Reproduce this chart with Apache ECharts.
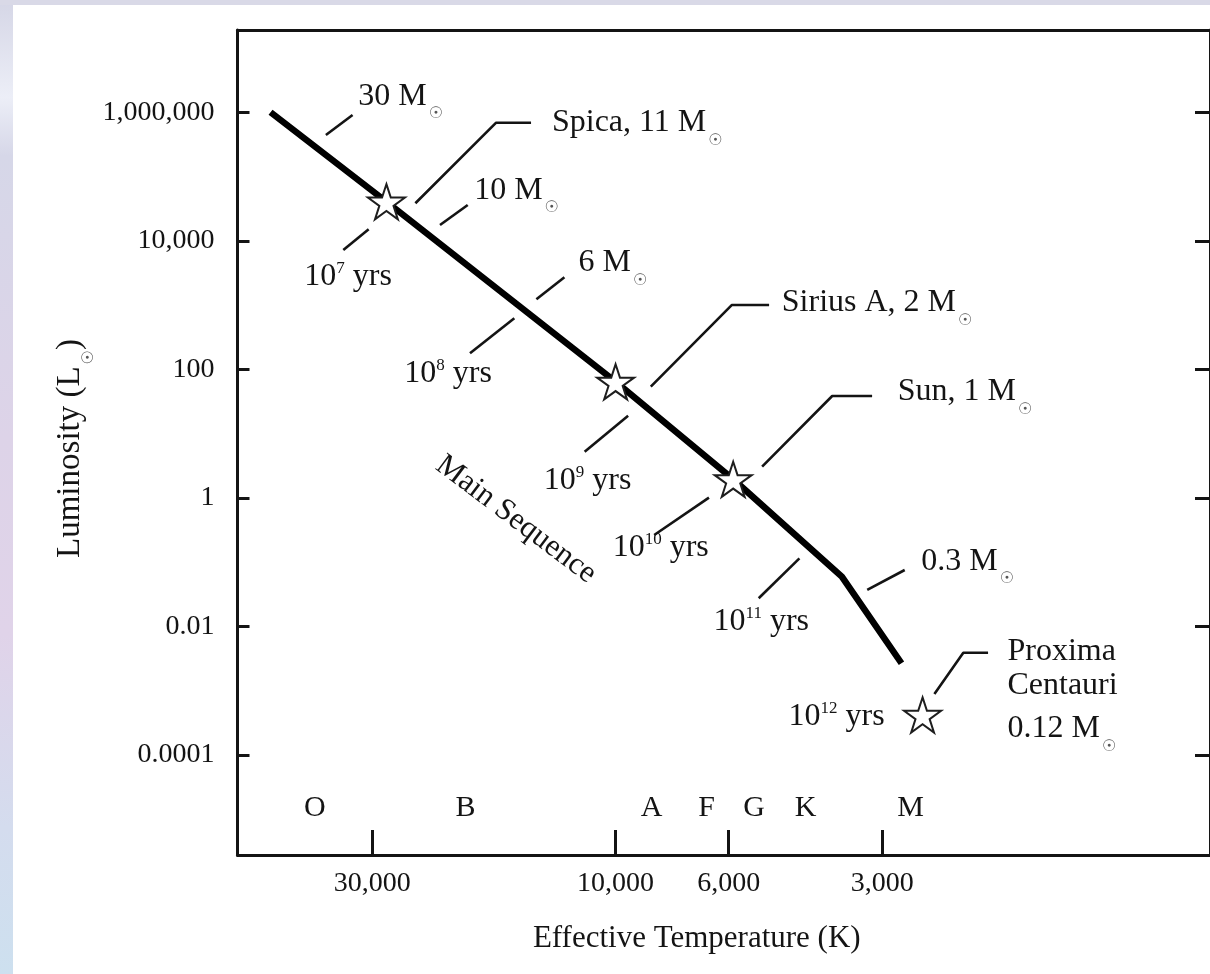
<!DOCTYPE html>
<html>
<head>
<meta charset="utf-8">
<script src="https://cdn.jsdelivr.net/npm/echarts@6/dist/echarts.min.js"></script>
<style>
  html, body { margin: 0; padding: 0; background: #fff; overflow: hidden; }
  #chart { width: 1210px; height: 974px; }
</style>
</head>
<body>
<div id="chart"></div>
<script>
// ---- Data (temperature in K, luminosity in solar units) ----

// Main-sequence track
const trackTemp = [47500, 28150, 10000, 5880, 3600, 2750];
const trackLum  = [1000000, 40500, 64, 1.95, 0.0596, 0.00268];

// Named stars
const starTemp = [28150, 10000, 5880, 2500];
const starLum  = [40500, 64, 1.95, 0.00042];

// Star name leaders (three-point polylines) and their labels
const leaderTemp = [[24700, 17150, 14650], [8530, 5920, 5000], [5160, 3760, 3140], [2370, 2080, 1860]];
const leaderLum  = [[38300, 687000, 687000], [53.8, 1000, 1000], [3.06, 38.5, 38.5], [0.00089, 0.0039, 0.0039]];
const starLabelText = ['Spica, 11 M', 'Sirius A, 2 M', 'Sun, 1 M', 'Proxima\nCentauri\n0.12 M'];
const starLabelTemp = [13300, 4710, 2790, 1700];
const starLabelLum  = [672000, 1065, 43.6, 0.00725];

// Stellar mass markers along the track
const massText = ['30 M', '10 M', '6 M', '0.3 M'];
const massTickTemp = [[37000, 32800], [22100, 19500], [14300, 12600], [3210, 2710]];
const massTickLum  = [[442000, 905000], [17600, 36000], [1230, 2700], [0.037, 0.0757]];
const massLabelTemp = [31900, 18900, 11800, 2510];
const massLabelLum  = [1740000, 59900, 4460, 0.102];

// Main-sequence lifetime markers (10^n years)
const ageExp = ['7', '8', '9', '10', '11', '12'];
const ageTickTemp = [[34200, 30500], [19300, 15800], [11500, 9450], [8400, 6560], [5240, 4360]];
const ageTickLum  = [[7190, 15100], [178, 623], [5.24, 19.0], [0.265, 1.01], [0.0275, 0.115]];
const ageLabelTemp = [40700, 25900, 13800, 10110, 6410, 4570];
const ageLabelLum  = [2760, 84.1, 1.85, 0.1665, 0.01155, 0.000396];

// Band label
const bandText = 'Main Sequence';
const bandTemp = 15650;
const bandLum = 0.454;

// Axes
const tempTicks = [30000, 10000, 6000, 3000];
const lumTicks = [0.0001, 0.01, 1, 100, 10000, 1000000];
const classLetters = ['O', 'B', 'A', 'F', 'G', 'K', 'M'];
const classTemp = [38900, 19700, 8500, 6630, 5350, 4240, 2640];
const tempRange = [682.7, 55150];     // K, right edge .. left edge
const lumRange = [2.79e-6, 1.9e7];    // L☉, bottom .. top

// ---- Helpers ----
const L10 = Math.log10;
const pt = (t, l) => [L10(t), L10(l)];
const commas = n => String(n).replace(/\B(?=(\d{3})+(?!\d))/g, ',');
const pick = (list, v) => list.find(t => Math.abs(L10(t) - v) < 1e-6);
const lumText = v => { const t = pick(lumTicks, v); return t >= 1 ? commas(t) : String(t); };

const serif = '"Liberation Serif", "Times New Roman", serif';
const ink = '#141414';
const SUN = '\u2609';

const plain = { textBorderWidth: 0, textShadowBlur: 0 };
const rich = {
  m: Object.assign({ fontFamily: serif, fontSize: 32, lineHeight: 32, color: ink, verticalAlign: 'middle' }, plain),
  p: Object.assign({ fontFamily: serif, fontSize: 32, lineHeight: 34, color: ink, verticalAlign: 'middle' }, plain),
  s: Object.assign({ fontFamily: '"DejaVu Sans", sans-serif', fontSize: 16, color: '#555', padding: [36, 0, 0, 2], verticalAlign: 'middle' }, plain),
  e: Object.assign({ fontFamily: serif, fontSize: 17, color: ink, padding: [0, 0, 16, 0], verticalAlign: 'middle' }, plain),
  n: Object.assign({ fontFamily: serif, fontSize: 33, lineHeight: 33, color: ink, verticalAlign: 'middle' }, plain)
};

const thinLine = (temps, lums) => ({
  type: 'line',
  data: temps.map((t, i) => pt(t, lums[i])),
  symbol: 'none',
  showSymbol: false,
  silent: true,
  z: 2,
  lineStyle: { color: ink, width: 2.6, cap: 'butt', opacity: 1 }
});

const textPoints = (items, align, vAlign, rotate) => ({
  type: 'scatter',
  symbol: 'circle',
  symbolSize: 1,
  silent: true,
  z: 6,
  itemStyle: { color: 'rgba(0,0,0,0)', opacity: 1 },
  data: items.map(it => ({
    value: it.value,
    label: {
      show: true,
      position: [0, 0],
      align: align,
      verticalAlign: vAlign,
      rotate: rotate || 0,
      formatter: it.text,
      rich: rich,
      fontFamily: serif,
      fontSize: it.size || 32,
      color: ink,
      opacity: 1,
      textBorderWidth: 0
    }
  }))
});

const starPath = 'path://M50 0 L61.23 34.55 L97.55 34.55 L68.17 55.9 L79.39 90.45 L50 69.1 L20.61 90.45 L31.83 55.9 L2.45 34.55 L38.77 34.55 Z';

const series = [];

// Marker ticks and leader lines
massTickTemp.forEach((t, i) => series.push(thinLine(t, massTickLum[i])));
ageTickTemp.forEach((t, i) => series.push(thinLine(t, ageTickLum[i])));
leaderTemp.forEach((t, i) => series.push(thinLine(t, leaderLum[i])));

// Main sequence
series.push({
  type: 'line',
  data: trackTemp.map((t, i) => pt(t, trackLum[i])),
  symbol: 'none',
  showSymbol: false,
  silent: true,
  z: 3,
  lineStyle: { color: '#000', width: 6.5, join: 'round', cap: 'butt', opacity: 1 }
});

// Stars
series.push({
  type: 'scatter',
  data: starTemp.map((t, i) => pt(t, starLum[i])),
  symbol: starPath,
  symbolKeepAspect: true,
  symbolSize: 37,
  silent: true,
  z: 4,
  itemStyle: { color: '#fff', borderColor: '#1e1e1e', borderWidth: 2, opacity: 1 }
});

// Labels
series.push(textPoints(massText.map((s, i) => ({
  value: pt(massLabelTemp[i], massLabelLum[i]),
  text: '{m|' + s + '}{s|' + SUN + '}'
})), 'left', 'middle'));

series.push(textPoints(starLabelText.slice(0, 3).map((s, i) => ({
  value: pt(starLabelTemp[i], starLabelLum[i]),
  text: '{m|' + s + '}{s|' + SUN + '}'
})), 'left', 'middle'));

series.push(textPoints([{
  value: pt(starLabelTemp[3], starLabelLum[3]),
  text: starLabelText[3].split('\n').map((s, i, a) => '{p|' + s + '}' + (i === a.length - 1 ? '{s|' + SUN + '}' : '')).join('\n')
}], 'left', 'top'));

series.push(textPoints(ageExp.map((s, i) => ({
  value: pt(ageLabelTemp[i], ageLabelLum[i]),
  text: '{m|10}{e|' + s + '}{m| yrs}'
})), 'left', 'middle'));

series.push(textPoints([{
  value: pt(bandTemp, bandLum),
  text: bandText,
  size: 31
}], 'center', 'middle', -37));

const xBase = {
  type: 'value',
  min: L10(tempRange[0]),
  max: L10(tempRange[1]),
  inverse: true,
  splitLine: { show: false }
};
const yBase = {
  type: 'value',
  min: L10(lumRange[0]),
  max: L10(lumRange[1]),
  splitLine: { show: false }
};

const option = {
  animation: false,
  backgroundColor: '#fff',
  graphic: [
    {
      type: 'rect', silent: true, z: -10,
      shape: { x: 0, y: 0, width: 13, height: 974 },
      style: {
        fill: new echarts.graphic.LinearGradient(0, 0, 0, 1, [
          { offset: 0, color: '#d5d6e6' },
          { offset: 0.1, color: '#eceef7' },
          { offset: 0.16, color: '#d6d7e8' },
          { offset: 0.45, color: '#ddd3e8' },
          { offset: 0.65, color: '#e0d3e9' },
          { offset: 0.85, color: '#d4dcee' },
          { offset: 1, color: '#cde0ef' }
        ])
      }
    },
    {
      type: 'rect', silent: true, z: -10,
      shape: { x: 0, y: 0, width: 1210, height: 5 },
      style: { fill: '#d9d9e7' }
    }
  ],
  grid: { left: 237.5, top: 30, right: -2, bottom: 119, containLabel: false },
  xAxis: [
    Object.assign({}, xBase, {
      position: 'bottom',
      axisLine: { show: true, onZero: false, lineStyle: { color: ink, width: 3 } },
      axisTick: { show: true, inside: true, length: 25, customValues: tempTicks.map(L10), lineStyle: { color: ink, width: 3 } },
      axisLabel: {
        show: true, customValues: tempTicks.map(L10), margin: 15,
        formatter: v => commas(pick(tempTicks, v)),
        fontFamily: serif, fontSize: 28, color: ink
      },
      name: 'Effective Temperature (K)',
      nameLocation: 'middle',
      nameGap: 68,
      nameTextStyle: { fontFamily: serif, fontSize: 31, color: ink, padding: [0, 54, 0, 0] }
    }),
    Object.assign({}, xBase, {
      position: 'top',
      axisLine: { show: true, onZero: false, lineStyle: { color: ink, width: 3 } },
      axisTick: { show: false },
      axisLabel: { show: false }
    }),
    Object.assign({}, xBase, {
      position: 'bottom',
      axisLine: { show: false },
      axisTick: { show: false },
      axisLabel: {
        show: true, inside: true, customValues: classTemp.map(L10), margin: 32,
        formatter: v => classLetters[classTemp.indexOf(pick(classTemp, v))],
        fontFamily: serif, fontSize: 30, color: ink
      }
    })
  ],
  yAxis: [
    Object.assign({}, yBase, {
      position: 'left',
      axisLine: { show: true, onZero: false, lineStyle: { color: ink, width: 3 } },
      axisTick: { show: true, inside: true, length: 12, customValues: lumTicks.map(L10), lineStyle: { color: ink, width: 3 } },
      axisLabel: {
        show: true, customValues: lumTicks.map(L10), margin: 23,
        formatter: lumText,
        fontFamily: serif, fontSize: 28, color: ink
      },
      name: '{n|Luminosity (L}{s|' + SUN + '}{n|)}',
      nameLocation: 'middle',
      nameGap: 141,
      nameMoveOverlap: false,
      nameTextStyle: { fontFamily: serif, fontSize: 33, color: ink, rich: rich, padding: [0, 12, 0, 0] }
    }),
    Object.assign({}, yBase, {
      position: 'right',
      axisLine: { show: true, onZero: false, lineStyle: { color: ink, width: 3 } },
      axisTick: { show: true, inside: true, length: 15, customValues: lumTicks.map(L10), lineStyle: { color: ink, width: 3 } },
      axisLabel: { show: false }
    })
  ],
  series: series
};

const chart = echarts.init(document.getElementById('chart'), null, { renderer: 'canvas' });
chart.setOption(option);
</script>
</body>
</html>
